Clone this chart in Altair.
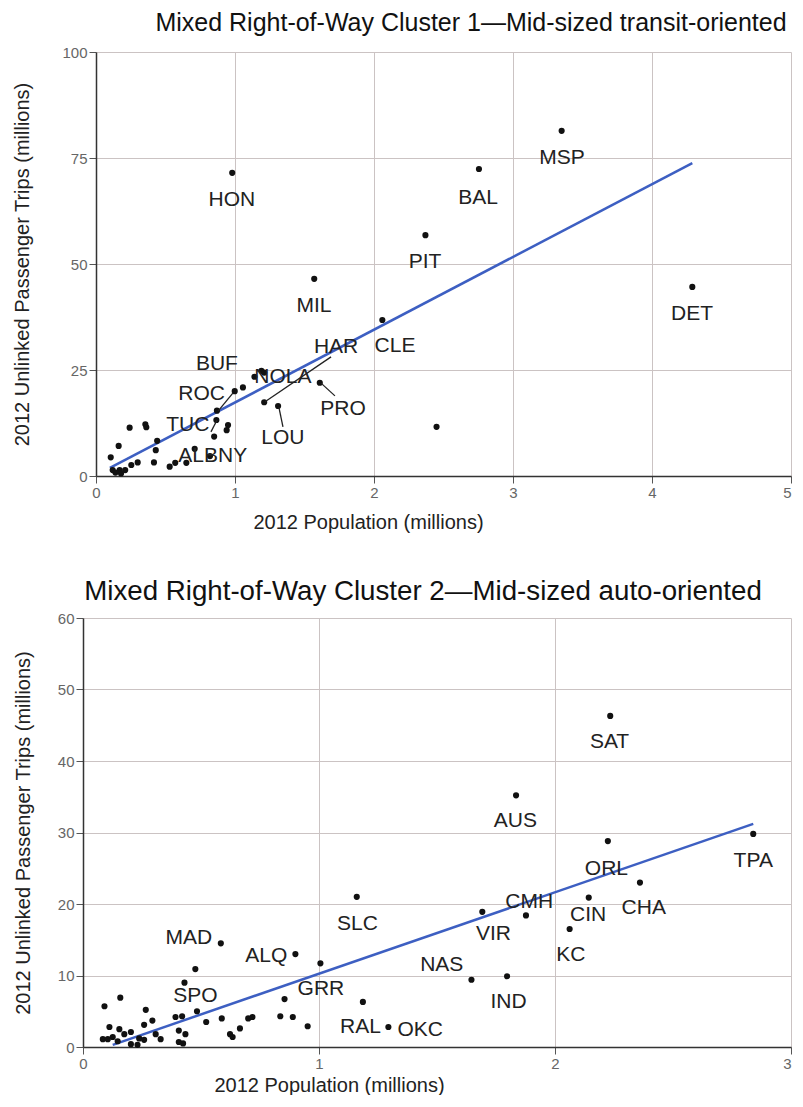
import altair as alt
import pandas as pd

FONT = "Liberation Sans"

# ---------------- Cluster 1 (top) ----------------
c1_pop = [0.98, 2.755, 3.35, 2.37, 1.57, 4.29, 2.06, 2.45,
          1.14, 1.19, 1.21, 1.21, 1.31, 1.61, 0.998, 1.057, 0.87, 0.866,
          0.94, 0.95, 0.85, 0.82, 0.71, 0.65, 0.53, 0.57,
          0.106, 0.163, 0.242, 0.355, 0.362, 0.44, 0.43, 0.417, 0.30, 0.254,
          0.12, 0.17, 0.21, 0.14, 0.18]
c1_trips = [71.5, 72.4, 81.4, 56.8, 46.5, 44.6, 36.8, 11.6,
            23.4, 24.8, 24.4, 17.4, 16.5, 22.0, 20.0, 20.9, 15.4, 13.2,
            10.8, 12.0, 9.3, 4.7, 6.4, 3.1, 2.2, 3.1,
            4.4, 7.1, 11.4, 12.2, 11.5, 8.3, 6.1, 3.2, 3.2, 2.6,
            1.4, 1.4, 1.4, 0.8, 0.6]

c1_labels = ["HON", "BAL", "MSP", "PIT", "MIL", "DET", "CLE", "HAR", "BUF",
             "NOLA", "ROC", "PRO", "TUC", "LOU", "ALBNY"]
c1_label_x = [0.978, 2.748, 3.353, 2.367, 1.568, 4.288, 2.151, 1.727, 0.87,
              1.345, 0.76, 1.777, 0.66, 1.345, 0.84]
c1_label_y = [65.1, 65.6, 75.0, 50.5, 40.1, 38.2, 30.7, 30.5, 26.4,
              23.4, 19.3, 15.8, 12.0, 8.9, 4.7]

c1_fit_x = [0.10, 4.29]
c1_fit_y = [1.9, 73.8]

c1_lead_x = [1.691, 1.316, 1.619, 0.986, 0.827]
c1_lead_y = [28.1, 16.2, 21.9, 19.6, 10.4]
c1_lead_x2 = [1.216, 1.345, 1.719, 0.878, 0.871]
c1_lead_y2 = [17.5, 11.6, 18.9, 15.3, 13.2]

# ---------------- Cluster 2 (bottom) ----------------
c2_pop = [2.234, 1.835, 2.224, 2.840, 2.360, 2.143, 1.877, 1.692, 2.062,
          1.646, 1.797, 1.160, 0.584, 0.900, 1.006, 0.854, 1.186, 1.294,
          0.952, 0.836, 0.889, 0.700, 0.718, 0.588, 0.665, 0.623, 0.634,
          0.522, 0.483, 0.476, 0.430, 0.158, 0.091, 0.266, 0.294, 0.259,
          0.112, 0.154, 0.392, 0.420, 0.084, 0.105, 0.126, 0.175, 0.203,
          0.238, 0.259, 0.203, 0.231, 0.308, 0.329, 0.406, 0.434, 0.406,
          0.424, 0.147]
c2_trips = [46.3, 35.2, 28.8, 29.8, 23.0, 20.9, 18.4, 18.9, 16.5,
            9.4, 9.9, 21.0, 14.5, 13.0, 11.7, 6.7, 6.3, 2.8,
            2.9, 4.3, 4.2, 4.0, 4.2, 4.0, 2.6, 1.8, 1.4,
            3.5, 5.0, 10.9, 9.0, 6.9, 5.7, 5.2, 3.7, 3.1,
            2.8, 2.5, 4.2, 4.3, 1.1, 1.1, 1.4, 1.8, 2.1,
            1.2, 1.0, 0.4, 0.3, 1.8, 1.1, 2.3, 1.8, 0.7,
            0.5, 0.8]

c2_labels = ["SAT", "AUS", "ORL", "TPA", "CMH", "CHA", "CIN", "SLC", "VIR",
             "MAD", "ALQ", "KC", "NAS", "GRR", "SPO", "IND", "RAL", "OKC"]
c2_label_x = [2.231, 1.832, 2.218, 2.840, 1.891, 2.376, 2.140, 1.163, 1.739,
              0.448, 0.777, 2.067, 1.520, 1.008, 0.476, 1.803, 1.176, 1.429]
c2_label_y = [42.7, 31.6, 24.9, 26.0, 20.3, 19.5, 18.5, 17.2, 15.8,
              15.2, 12.7, 12.8, 11.5, 8.1, 7.2, 6.3, 2.8, 2.4]

c2_fit_x = [0.126, 2.84]
c2_fit_y = [0.3, 31.2]


def panel(pop, trips, labels, lab_x, lab_y, fit_x, fit_y, leads,
          xdom, ydom, xticks, yticks, w, h, xrange, yoffset, title, title_size,
          title_dx, title_offset, xtitle_x, xtitle_pad, ytitle_pad):
    xs = alt.Scale(domain=xdom, nice=False, zero=False, range=xrange)
    ys = alt.Scale(domain=ydom, nice=False, zero=False)
    last = xdom[1]
    xaxis = alt.Axis(values=xticks, format="d", title="2012 Population (millions)",
                     titleX=xtitle_x, titleAnchor="middle", titlePadding=xtitle_pad,
                     labelAlign={"condition": {"test": f"datum.value >= {last}",
                                               "value": "right"},
                                 "value": "center"})
    yaxis = alt.Axis(values=yticks, format="d",
                     title="2012 Unlinked Passenger Trips (millions)",
                     titlePadding=ytitle_pad, offset=yoffset)
    X = alt.X("x:Q", scale=xs, axis=xaxis)
    Y = alt.Y("y:Q", scale=ys, axis=yaxis)

    pts = alt.Chart(pd.DataFrame({"x": pop, "y": trips})).mark_circle(
        size=38, color="#111", opacity=1).encode(x=X, y=Y)
    fit = alt.Chart(pd.DataFrame({"x": fit_x, "y": fit_y})).mark_line(
        color="#3d5fc2", strokeWidth=2.5).encode(x=X, y=Y)
    txt = alt.Chart(pd.DataFrame({"x": lab_x, "y": lab_y, "t": labels})).mark_text(
        font=FONT, fontSize=21, color="#222", align="center", baseline="middle"
    ).encode(x=X, y=Y, text="t:N")
    layers = [fit, pts]
    if leads is not None:
        lx, ly, lx2, ly2 = leads
        rules = alt.Chart(pd.DataFrame({"x": lx, "y": ly, "x2": lx2, "y2": ly2})).mark_rule(
            color="#222", strokeWidth=1.3).encode(x=X, y=Y, x2="x2:Q", y2="y2:Q")
        layers.append(rules)
    layers.append(txt)
    return alt.layer(*layers).properties(
        width=w, height=h,
        title=alt.TitleParams(title, font=FONT, fontSize=title_size, fontWeight="normal",
                              color="#111", anchor="middle", dx=title_dx,
                              offset=title_offset),
    )


top = panel(c1_pop, c1_trips, c1_labels, c1_label_x, c1_label_y, c1_fit_x, c1_fit_y,
            (c1_lead_x, c1_lead_y, c1_lead_x2, c1_lead_y2),
            [0, 5], [0, 100], [0, 1, 2, 3, 4, 5], [0, 25, 50, 75, 100],
            708, 424, [13, 708], -13,
            "Mixed Right-of-Way Cluster 1\u2014Mid-sized transit-oriented", 25, 34, 9,
            285, 12, 29.5)
bottom = panel(c2_pop, c2_trips, c2_labels, c2_label_x, c2_label_y, c2_fit_x, c2_fit_y,
               None,
               [0, 3], [0, 60], [0, 1, 2, 3], [0, 10, 20, 30, 40, 50, 60],
               708, 429, [0, 708], 0,
               "Mixed Right-of-Way Cluster 2\u2014Mid-sized auto-oriented", 27.7, -14, 5,
               246, 4, 23.5)

chart = alt.ConcatChart(concat=[top, bottom], columns=1, spacing=46,
                        padding={"left": 4, "top": 3, "right": 0, "bottom": 0},
                        background="white").configure_view(
    stroke=None
).configure_axis(
    labelFont=FONT, titleFont=FONT, labelFontSize=15, titleFontSize=20,
    labelColor="#666", titleColor="#222", titleFontWeight="normal",
    gridColor="#cbc3c3", gridWidth=1, domainColor="#333", domainWidth=1.5,
    tickColor="#555", tickSize=7, labelPadding=2,
)

chart.save("out.html", embed_options={"renderer": "svg", "actions": False})
